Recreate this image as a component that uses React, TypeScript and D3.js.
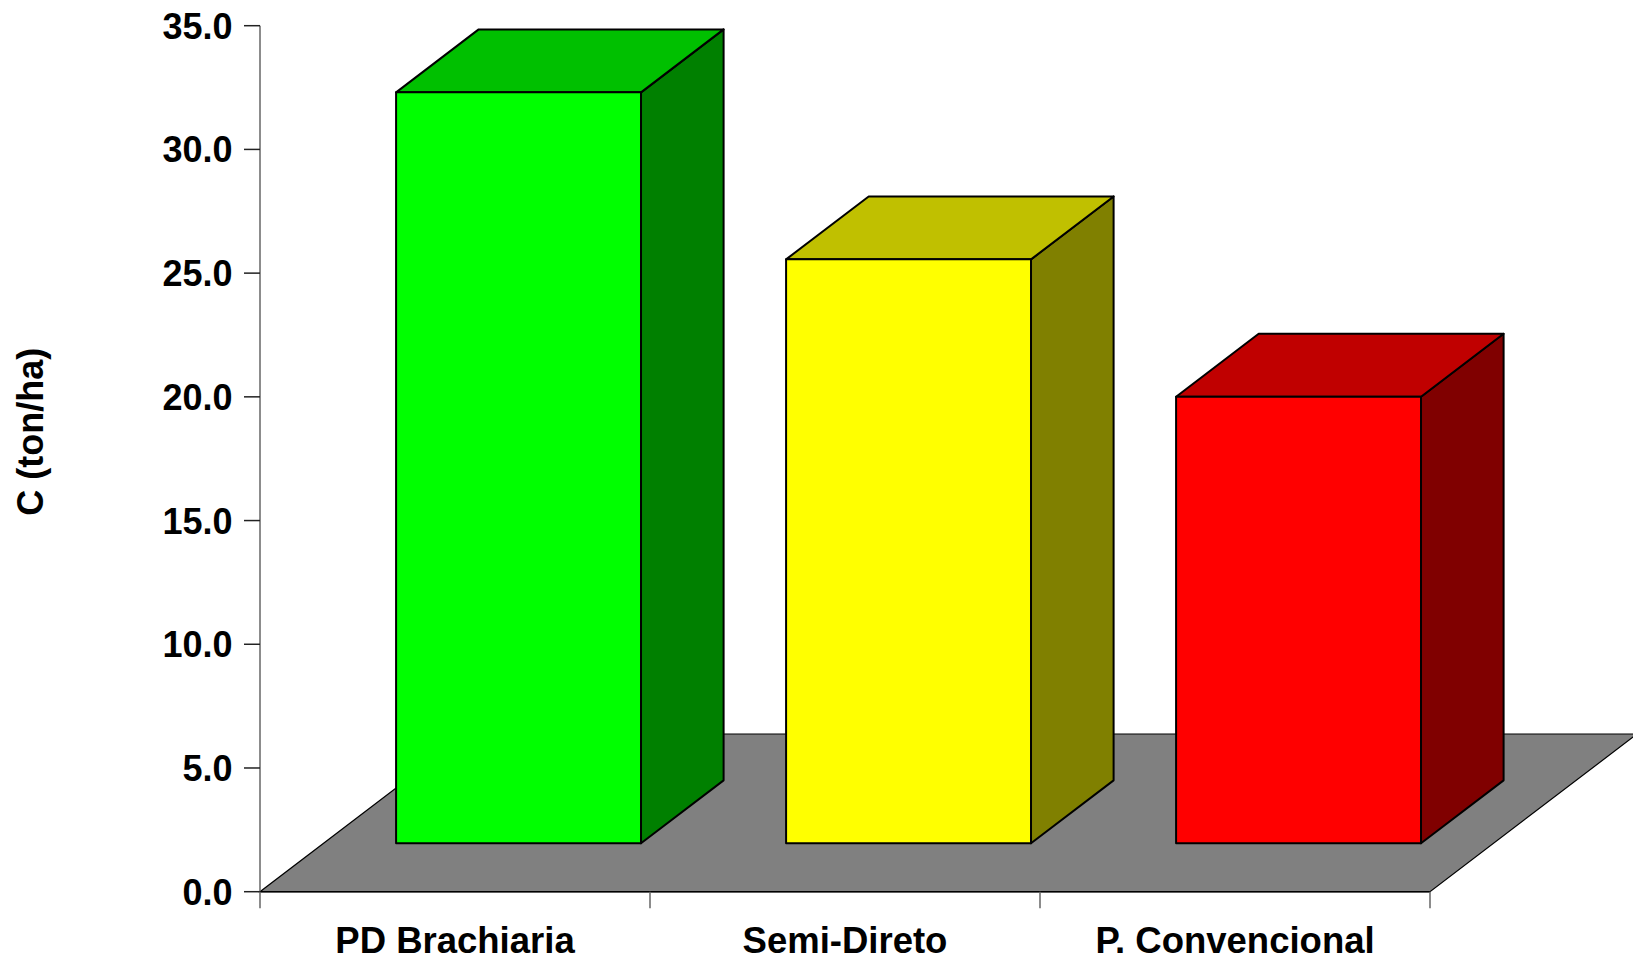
import React from "react";
import * as d3 from "d3";

const categories = ["PD Brachiaria", "Semi-Direto", "P. Convencional"];
const values = [30.35, 23.6, 18.05];
const frontColors = ["#00FF00", "#FFFF00", "#FF0000"];
const topColors = ["#00C000", "#C0C000", "#C00000"];
const sideColors = ["#008000", "#808000", "#800000"];
const yTicks = [0, 5, 10, 15, 20, 25, 30, 35];

const W = 1633;
const H = 961;
const FONT = "'Liberation Sans', Arial, Helvetica, sans-serif";

// oblique depth of the floor and bar placement inside it
const depthX = 207;
const depthY = 157.7;
const barFrontF = 0.307;
const barBackF = 0.706;

export default function App() {
  const y = d3.scaleLinear().domain([0, 35]).range([891.7, 25.7]);
  const x = d3
    .scaleBand<string>()
    .domain(categories)
    .range([260, 1430])
    .paddingInner(0.372)
    .paddingOuter(0.186);

  const [x0, x1] = x.range();
  const y0 = y(0);
  const step = x.step();
  const tickXs = d3.range(categories.length + 1).map((i) => x0 + i * step);

  const floor = [
    [x0, y0],
    [x1, y0],
    [x1 + depthX, y0 - depthY],
    [x0 + depthX, y0 - depthY],
  ];
  const pts = (p: number[][]) => p.map((q) => q.join(",")).join(" ");

  const fx = barFrontF * depthX;
  const fy = barFrontF * depthY;
  const bx = barBackF * depthX;
  const by = barBackF * depthY;

  return (
    <div style={{ position: "fixed", left: 0, top: 0 }}>
      <svg width={W} height={H} style={{ display: "block", background: "#fff" }}>
        {/* floor */}
        <polygon points={pts(floor)} fill="#808080" stroke="#000" strokeWidth={1.2} strokeLinejoin="miter" />

        {/* bars */}
        {categories.map((c, i) => {
          const left = (x(c) as number) + fx;
          const right = left + x.bandwidth();
          const top = y(values[i]) - fy;
          const bottom = y0 - fy;
          const ddx = bx - fx;
          const ddy = by - fy;
          const front = [
            [left, top],
            [right, top],
            [right, bottom],
            [left, bottom],
          ];
          const topFace = [
            [left, top],
            [left + ddx, top - ddy],
            [right + ddx, top - ddy],
            [right, top],
          ];
          const side = [
            [right, top],
            [right + ddx, top - ddy],
            [right + ddx, bottom - ddy],
            [right, bottom],
          ];
          return (
            <g key={c} stroke="#000" strokeWidth={2} strokeLinejoin="round">
              <polygon points={pts(side)} fill={sideColors[i]} />
              <polygon points={pts(topFace)} fill={topColors[i]} />
              <polygon points={pts(front)} fill={frontColors[i]} />
            </g>
          );
        })}

        {/* y axis */}
        <line x1={x0} x2={x0} y1={y(35)} y2={y0} stroke="#666" strokeWidth={1.5} />
        {yTicks.map((t) => (
          <g key={t}>
            <line x1={x0 - 16} x2={x0} y1={y(t)} y2={y(t)} stroke="#222" strokeWidth={1.5} />
            <text
              x={232.5}
              y={y(t)}
              dy="0.36em"
              textAnchor="end"
              fontFamily={FONT}
              fontWeight="bold"
              fontSize={36}
              fill="#000"
            >
              {t.toFixed(1)}
            </text>
          </g>
        ))}

        {/* x axis ticks and labels */}
        <line x1={x0} x2={x1} y1={y0} y2={y0} stroke="#000" strokeWidth={1.5} />
        {tickXs.map((tx, i) => (
          <line key={i} x1={tx} x2={tx} y1={y0} y2={y0 + 16.5} stroke="#666" strokeWidth={1.5} />
        ))}
        {categories.map((c) => (
          <text
            key={c}
            x={(x(c) as number) + x.bandwidth() / 2}
            y={953}
            textAnchor="middle"
            fontFamily={FONT}
            fontWeight="bold"
            fontSize={36.5}
            fill="#000"
          >
            {c}
          </text>
        ))}

        {/* y axis title */}
        <text
          transform="translate(43,431.7) rotate(-90)"
          textAnchor="middle"
          fontFamily={FONT}
          fontWeight="bold"
          fontSize={36}
          fill="#000"
        >
          C (ton/ha)
        </text>
      </svg>
    </div>
  );
}
